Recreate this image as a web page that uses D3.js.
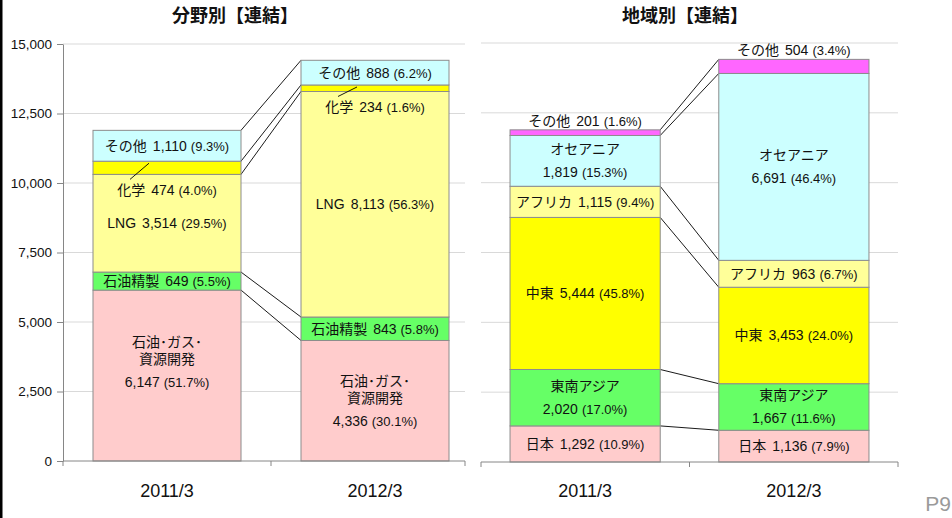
<!DOCTYPE html>
<html>
<head>
<meta charset="utf-8">
<script src="https://cdn.jsdelivr.net/npm/d3@7"></script>
<style>
  body { margin: 0; background: #fff; }
  svg { display: block; font-family: "Liberation Sans", Arial, "Noto Sans CJK JP", sans-serif; }
</style>
</head>
<body>
<div id="chart"></div>
<script>
// data (bottom segment first)
const years = ["2011/3", "2012/3"];
const yTicks = [0, 2500, 5000, 7500, 10000, 12500, 15000];

const fieldNames = ["石油・ガス・資源開発", "石油精製", "LNG", "化学", "その他"];
const field2011 = [6147, 649, 3514, 474, 1110];
const field2012 = [4336, 843, 8113, 234, 888];
const fieldShare2011 = ["51.7", "5.5", "29.5", "4.0", "9.3"];
const fieldShare2012 = ["30.1", "5.8", "56.3", "1.6", "6.2"];

const regionNames = ["日本", "東南アジア", "中東", "アフリカ", "オセアニア", "その他"];
const region2011 = [1292, 2020, 5444, 1115, 1819, 201];
const region2012 = [1136, 1667, 3453, 963, 6691, 504];
const regionShare2011 = ["10.9", "17.0", "45.8", "9.4", "15.3", "1.6"];
const regionShare2012 = ["7.9", "11.6", "24.0", "6.7", "46.4", "3.4"];

// styles
const fieldColors = ["#ffcccc", "#66ff66", "#ffff99", "#ffff00", "#ccffff"];
const regionColors = ["#ffcccc", "#66ff66", "#ffff00", "#ffff99", "#ccffff", "#ff66ff"];

const width = 952, height = 518;
const fmt = d3.format(",");

const svg = d3.select("#chart").append("svg")
  .attr("width", width)
  .attr("height", height);

// slide edge + page number
svg.append("rect").attr("x", 0).attr("y", 0).attr("width", 2.5).attr("height", height).attr("fill", "#000");
svg.append("text")
  .attr("x", 951).attr("y", 511)
  .attr("text-anchor", "end")
  .style("font-size", "21px")
  .style("fill", "#9a9a9a")
  .text("P9");

function drawChart(opt) {
  const g = svg.append("g");

  const x = d3.scaleBand()
    .domain(years)
    .range(opt.band)
    .paddingInner(opt.padIn)
    .paddingOuter(opt.padOut);
  const bw = x.bandwidth();

  const y = d3.scaleLinear()
    .domain([0, 15000])
    .range(opt.yRange);

  // gridlines
  g.append("g").selectAll("line")
    .data(yTicks.filter(d => d > 0))
    .join("line")
      .attr("x1", opt.grid[0]).attr("x2", opt.grid[1])
      .attr("y1", d => y(d)).attr("y2", d => y(d))
      .attr("stroke", "#d9d9d9")
      .attr("stroke-width", 1);

  if (opt.yAxis) {
    const ax = g.append("g")
      .attr("transform", `translate(${opt.grid[0]},0)`)
      .call(d3.axisLeft(y).tickValues(yTicks).tickSize(6).tickSizeOuter(0).tickFormat(fmt));
    ax.select(".domain").attr("stroke", "#868686");
    ax.selectAll(".tick line").attr("stroke", "#868686");
    ax.selectAll(".tick text")
      .attr("x", -11)
      .style("font-size", "13.5px")
      .style("font-family", "\"Liberation Sans\", Arial, sans-serif")
      .attr("fill", "#111");
  }

  // stacked table
  const rows = years.map((yr, i) => {
    const r = { year: yr };
    opt.names.forEach((n, j) => r[n] = opt.values[i][j]);
    return r;
  });
  const series = d3.stack().keys(opt.names)(rows);

  // connector lines between the bars
  g.append("g").selectAll("line")
    .data(series)
    .join("line")
      .attr("x1", x(years[0]) + bw)
      .attr("y1", s => y(s[0][1]))
      .attr("x2", x(years[1]))
      .attr("y2", s => y(s[1][1]))
      .attr("stroke", "#000")
      .attr("stroke-width", 0.9);

  // bars
  series.forEach((s, j) => {
    g.append("g").selectAll("rect")
      .data(s)
      .join("rect")
        .attr("x", d => x(d.data.year))
        .attr("y", d => y(d[1]))
        .attr("width", bw)
        .attr("height", d => y(d[0]) - y(d[1]))
        .attr("fill", opt.colors[j])
        .attr("stroke", "#8c8c8c")
        .attr("stroke-width", 1);
  });

  // x axis baseline with category dividers
  const y0 = y(0);
  const divs = [opt.grid[0], (x(years[0]) + bw + x(years[1])) / 2, opt.grid[1]];
  g.append("line")
    .attr("x1", opt.grid[0]).attr("x2", opt.grid[1])
    .attr("y1", y0).attr("y2", y0)
    .attr("stroke", "#868686");
  g.append("g").selectAll("line")
    .data(divs)
    .join("line")
      .attr("x1", d => d).attr("x2", d => d)
      .attr("y1", y0).attr("y2", y0 + 5)
      .attr("stroke", "#868686");
  g.append("g").selectAll("text")
    .data(years)
    .join("text")
      .attr("x", d => x(d) + bw / 2)
      .attr("y", 497)
      .attr("text-anchor", "middle")
      .style("font-size", "18px")
      .attr("fill", "#111")
      .text(d => d);

  // title
  g.append("text")
    .attr("x", opt.titleX).attr("y", 22)
    .attr("text-anchor", "middle")
    .style("font-size", "18px")
    .style("font-weight", "bold")
    .style("font-family", "\"Noto Sans CJK JP\", sans-serif")
    .attr("fill", "#111")
    .text(opt.title);

  // segment labels
  series.forEach((s, j) => {
    const name = opt.names[j];
    s.forEach((d, i) => {
      const cx = x(d.data.year) + bw / 2;
      const share = opt.shares[i][j];
      const lines = opt.breaks[name];
      const mode = opt.place[name] || "mid";
      let cy = y((d[0] + d[1]) / 2);
      if (mode === "below") cy = y(d[0]) + 16;
      if (mode === "above") cy = y(d[1]) - 9;
      cy += (opt.nudge[name + "|" + d.data.year] || 0);

      const t = g.append("text")
        .attr("text-anchor", "middle")
        .attr("fill", "#111");

      if (!lines) {
        t.attr("x", cx).attr("y", cy + 5);
        t.append("tspan").style("font-size", "14px").text(name);
        t.append("tspan").attr("dx", 6).style("font-size", "14px").text(fmt(opt.values[i][j]));
        t.append("tspan").attr("dx", 4).style("font-size", "13px").text(`(${share}%)`);
      } else {
        const span = 17 * (lines.length - 1) + 23;
        let by = cy - span / 2 + 5;
        lines.forEach((ln, k) => {
          t.append("tspan").attr("x", cx).attr("y", by).style("font-size", "14px").text(ln);
          by += (k === lines.length - 1) ? 23 : 17;
        });
        t.append("tspan").attr("x", cx).attr("y", by).style("font-size", "14px").text(fmt(opt.values[i][j]));
        t.append("tspan").attr("dx", 4).style("font-size", "13px").text(`(${share}%)`);
      }

      if (mode === "below") {
        g.append("line")
          .attr("x1", cx - 37).attr("y1", y(d[0]) + 5)
          .attr("x2", cx - 18).attr("y2", y(d[1]) + 2)
          .attr("stroke", "#000")
          .attr("stroke-width", 0.9);
      }
    });
  });
}

drawChart({
  title: "分野別【連結】",
  titleX: 235,
  names: fieldNames,
  values: [field2011, field2012],
  shares: [fieldShare2011, fieldShare2012],
  colors: fieldColors,
  band: [63, 479],
  padIn: 60 / 208,
  padOut: 30 / 208,
  grid: [63, 465],
  yRange: [461, 44],
  yAxis: true,
  breaks: { "石油・ガス・資源開発": ["石油･ガス･", "資源開発"] },
  place: { "化学": "below" },
  nudge: { "石油・ガス・資源開発|2011/3": -14 }
});

drawChart({
  title: "地域別【連結】",
  titleX: 685,
  names: regionNames,
  values: [region2011, region2012],
  shares: [regionShare2011, regionShare2012],
  colors: regionColors,
  band: [481, 898],
  padIn: 58.5 / 208.5,
  padOut: 29 / 208.5,
  grid: [481, 898],
  yRange: [462, 43],
  yAxis: false,
  breaks: { "オセアニア": ["オセアニア"], "東南アジア": ["東南アジア"] },
  place: { "その他": "above" },
  nudge: {}
});
</script>
</body>
</html>
